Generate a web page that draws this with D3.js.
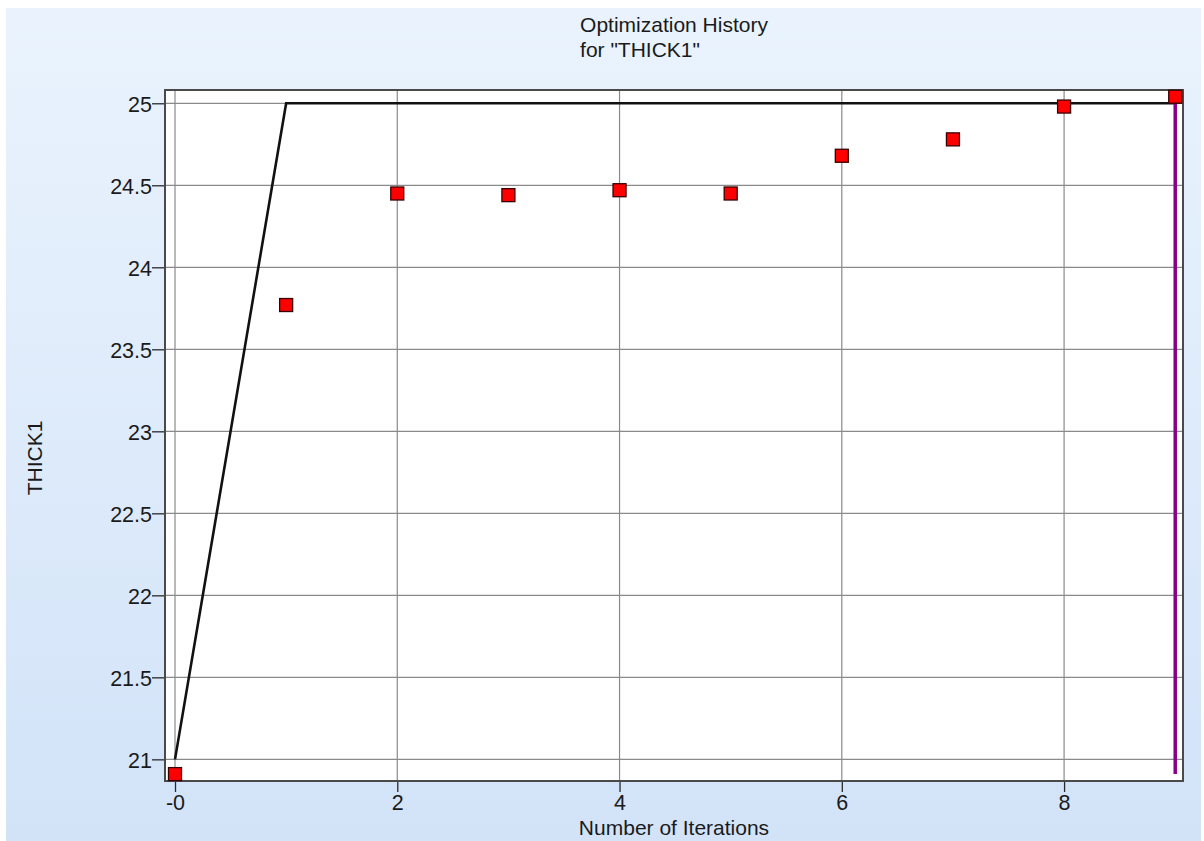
<!DOCTYPE html>
<html>
<head>
<meta charset="utf-8">
<script src="https://cdn.jsdelivr.net/npm/d3@7"></script>
<style>
  html, body { margin: 0; padding: 0; background: #ffffff; }
  svg text { font-family: "Liberation Sans", Arial, sans-serif; fill: #1a1a1a; }
</style>
</head>
<body>
<svg id="chart" width="1204" height="841"></svg>
<script>
// Design variable THICK1 per iteration
const iterations = [0, 1, 2, 3, 4, 5, 6, 7, 8, 9];
const thickValues = [20.91, 23.77, 24.45, 24.44, 24.47, 24.45, 24.68, 24.78, 24.98, 25.04];

// Upper bound history (black line)
const boundIters = [0, 1, 9];
const boundValues = [21, 25, 25];

// Final-iteration range marker (purple bar)
const finalIter = 9;
const finalRange = [20.91, 25.04];

const xTicks = [0, 2, 4, 6, 8];
const xTickLabels = ["-0", "2", "4", "6", "8"];
const yTicks = [21, 21.5, 22, 22.5, 23, 23.5, 24, 24.5, 25];
const yTickLabels = ["21", "21.5", "22", "22.5", "23", "23.5", "24", "24.5", "25"];

const titleLines = ["Optimization History", "for \"THICK1\""];
const xLabel = "Number of Iterations";
const yLabel = "THICK1";

const svg = d3.select("#chart");
const W = 1204, H = 841;

// Panel background gradient
const defs = svg.append("defs");
const grad = defs.append("linearGradient").attr("id", "bg").attr("x1", 0).attr("y1", 0).attr("x2", 0).attr("y2", 1);
grad.append("stop").attr("offset", "0%").attr("stop-color", "#eaf3fd");
grad.append("stop").attr("offset", "100%").attr("stop-color", "#d2e3f8");
svg.append("rect").attr("x", 6).attr("y", 8).attr("width", 1195).attr("height", H - 8).attr("fill", "url(#bg)");

const plot = { left: 165, top: 90, right: 1183, bottom: 781 };

const x = d3.scaleLinear().domain([-0.09, 9.07]).range([plot.left, plot.right]);
const y = d3.scaleLinear().domain([20.868, 25.081]).range([plot.bottom, plot.top]);

// Plot area
svg.append("rect")
  .attr("x", plot.left).attr("y", plot.top)
  .attr("width", plot.right - plot.left).attr("height", plot.bottom - plot.top)
  .attr("fill", "#ffffff");

// Grid lines
const grid = svg.append("g").attr("stroke", "#8a8a8a").attr("stroke-width", 1.2);
grid.selectAll("line.v").data(xTicks).join("line")
  .attr("x1", d => x(d)).attr("x2", d => x(d))
  .attr("y1", plot.top).attr("y2", plot.bottom);
grid.selectAll("line.h").data(yTicks).join("line")
  .attr("x1", plot.left).attr("x2", plot.right)
  .attr("y1", d => y(d)).attr("y2", d => y(d));

// Axes
const xAxis = d3.axisBottom(x).tickValues(xTicks)
  .tickFormat((d, i) => xTickLabels[i]).tickSize(11).tickSizeOuter(0).tickPadding(3);
const yAxis = d3.axisLeft(y).tickValues(yTicks)
  .tickFormat((d, i) => yTickLabels[i]).tickSize(13).tickSizeOuter(0).tickPadding(0);

const gx = svg.append("g").attr("transform", `translate(0,${plot.bottom})`).call(xAxis);
const gy = svg.append("g").attr("transform", `translate(${plot.left},0)`).call(yAxis);
[gx, gy].forEach(g => {
  g.select(".domain").remove();
  g.selectAll(".tick line").attr("stroke", "#2a2a2a").attr("stroke-width", 1.3);
  g.selectAll(".tick text").attr("font-size", 21.5).attr("fill", "#1a1a1a")
    .style("font-family", "'Liberation Sans', Arial, sans-serif");
});
gy.selectAll(".tick text").attr("dy", "0.36em");
gx.selectAll(".tick text").attr("dy", "0.71em");

// Plot frame
svg.append("rect")
  .attr("x", plot.left).attr("y", plot.top)
  .attr("width", plot.right - plot.left).attr("height", plot.bottom - plot.top)
  .attr("fill", "none").attr("stroke", "#4a4a4a").attr("stroke-width", 2);

// Bound line
const bound = boundIters.map((d, i) => [d, boundValues[i]]);
svg.append("path")
  .datum(bound)
  .attr("d", d3.line().x(d => x(d[0])).y(d => y(d[1])))
  .attr("fill", "none").attr("stroke", "#111111").attr("stroke-width", 2.6);

// Final range bar
svg.append("line")
  .attr("x1", x(finalIter)).attr("x2", x(finalIter))
  .attr("y1", y(finalRange[1])).attr("y2", y(finalRange[0]))
  .attr("stroke", "#880088").attr("stroke-width", 3.5);

// Iteration markers
const ms = 13;
svg.append("g").selectAll("rect").data(iterations).join("rect")
  .attr("x", d => x(d) - ms / 2)
  .attr("y", (d, i) => y(thickValues[i]) - ms / 2)
  .attr("width", ms).attr("height", ms)
  .attr("fill", "#ff0000").attr("stroke", "#3a0000").attr("stroke-width", 1.3);

// Title (left-aligned block centred over plot)
const cx = (plot.left + plot.right) / 2;
const title = svg.append("g");
const tTexts = title.selectAll("text").data(titleLines).join("text")
  .attr("y", (d, i) => 32 + i * 24.5)
  .attr("font-size", 21)
  .text(d => d);
const maxW = d3.max(tTexts.nodes(), n => n.getComputedTextLength());
tTexts.attr("x", cx - maxW / 2);

// Axis titles
svg.append("text")
  .attr("x", cx).attr("y", 835)
  .attr("text-anchor", "middle").attr("font-size", 21)
  .text(xLabel);
svg.append("text")
  .attr("transform", `translate(42,${458}) rotate(-90)`)
  .attr("text-anchor", "middle").attr("font-size", 21)
  .text(yLabel);
</script>
</body>
</html>
